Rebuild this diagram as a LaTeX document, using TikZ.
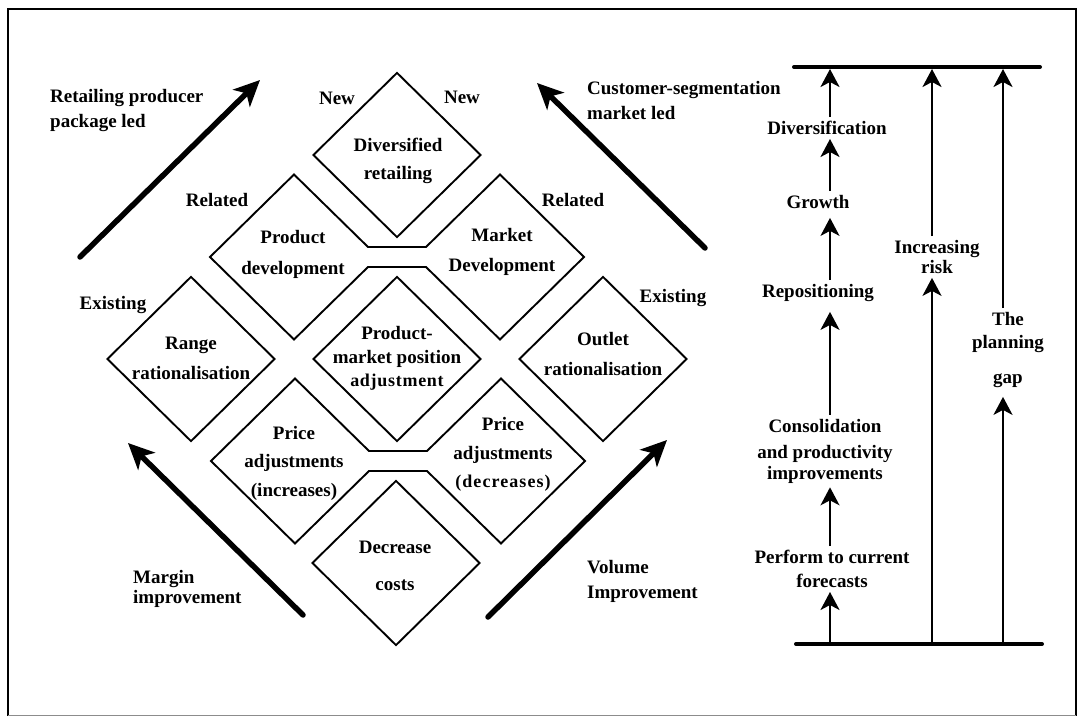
\documentclass[tikz,border=0pt]{standalone}
\usepackage{fontspec}
\setmainfont{Liberation Serif}
\usetikzlibrary{arrows.meta,shapes.geometric}
\newcommand\spacedtext[2]{{\fontsize{18}{24}\selectfont\addfontfeature{LetterSpace=#1}#2}}

\begin{document}
\begin{tikzpicture}[x=1pt,y=-1pt,
  txt/.style={font=\fontsize{19}{25}\selectfont\bfseries, align=center, inner sep=1pt},
  ltxt/.style={txt, align=left, anchor=west},
  rtxt/.style={txt, inner sep=4pt},
  dia/.style={diamond, draw, line width=1.9pt, minimum width=168pt, minimum height=165pt, inner sep=0pt},
  outline/.style={draw, line width=1.9pt, line join=miter},
  bigarrow/.style={line width=5.5pt, line cap=round, -{Stealth[length=26pt,width=24pt,inset=7pt]}},
  uparrow/.style={line width=2.3pt, -{Stealth[length=18pt,width=19pt,inset=5pt]}},
  bar/.style={line width=4pt, line cap=round},
]
\useasboundingbox (0,0) rectangle (1082,717);

% frame
\draw[line width=2.2pt] (8,716) -- (8,9) -- (1076,9) -- (1076,716);
\draw[line width=0.6pt, black!45] (8,715.5) -- (1076,715.5);

% single diamonds
\node[dia] (div) at (397,155) {};
\node[dia] (rr)  at (191,359) {};
\node[dia] (pm)  at (397,359) {};
\node[dia] (orr) at (603,359) {};
\node[dia] (dc)  at (396,563) {};

% joined diamonds: product / market development
\draw[outline, shift={(294,257)}]
  (-84,0) -- (0,-82.5) -- (74,-10) -- (132,-10) -- (206,-82.5) -- (290,0)
  -- (206,82.5) -- (132,10) -- (74,10) -- (0,82.5) -- cycle;
% joined diamonds: price adjustments
\draw[outline, shift={(295,461)}]
  (-84,0) -- (0,-82.5) -- (74,-10) -- (132,-10) -- (206,-82.5) -- (290,0)
  -- (206,82.5) -- (132,10) -- (74,10) -- (0,82.5) -- cycle;

% texts inside the shapes
\node[txt] (tdiv) at (398,161) {Diversified\\[3pt]retailing};
\node[txt] (tpd)  at (293,254) {Product\\[6pt]development};
\node[txt] (tmd)  at (502,252) {Market\\[5pt]Development};
\node[txt] (trr)  at (191,358) {Range\\[5pt]rationalisation};
\node[txt] (tpm)  at (397,358) {Product-\\[-1pt]market position\\[-2pt]\spacedtext{4}{adjustment}};
\node[txt] (tor)  at (603,354) {Outlet\\[5pt]rationalisation};
\node[txt] (tpi)  at (294,463) {Price\\[3pt]adjustments\\[4pt](increases)};
\node[txt] (tpdd) at (503,454) {Price\\[4pt]adjustments\\[3pt]\spacedtext{6}{(decreases)}};
\node[txt] (tdc)  at (395,566) {Decrease\\[12pt]costs};

% side labels
\node[txt] (new1) at (337,98) {New};
\node[txt] (new2) at (462,97) {New};
\node[txt] (rel1) at (217,200) {Related};
\node[txt] (rel2) at (573,200) {Related};
\node[txt] (ex1)  at (113,305) {Existing};
\node[txt] (ex2)  at (673,298) {Existing};

\node[ltxt] (lret)  at (49,111)  {Retailing producer\\package led};
\node[ltxt] (lcust) at (586,101) {Customer-segmentation\\market led};
\node[ltxt] (lmarg) at (132,589) {Margin\\[-5pt]improvement};
\node[ltxt] (lvol)  at (586,581) {Volume\\Improvement};

% direction arrows
\coordinate (tl0) at (80,257);  \coordinate (tl1) at (260,80);
\coordinate (tr0) at (705,248); \coordinate (tr1) at (537,83);
\coordinate (bl0) at (303,615); \coordinate (bl1) at (128,443);
\coordinate (br0) at (488,617); \coordinate (br1) at (667,440);
\draw[bigarrow] (tl0) -- (tl1);
\draw[bigarrow] (tr0) -- (tr1);
\draw[bigarrow] (bl0) -- (bl1);
\draw[bigarrow] (br0) -- (br1);

% right panel: limits
\coordinate (topL) at (794,67);  \coordinate (topR) at (1040,67);
\coordinate (botL) at (796,644); \coordinate (botR) at (1042,644);
\draw[bar] (topL) -- (topR);
\draw[bar] (botL) -- (botR);

\coordinate (colB) at (830,644); \coordinate (colT) at (830,69);
\coordinate (riskB) at (932,644); \coordinate (riskT) at (932,69);
\coordinate (gapB) at (1003,644); \coordinate (gapT) at (1003,69);

\node[rtxt] (sdiv)  at (827,128) {Diversification};
\node[rtxt] (sgro)  at (818,202) {Growth};
\node[rtxt] (srep)  at (818,293) {Repositioning};
\node[rtxt] (scon)  at (825,451) {Consolidation\\[1pt]and productivity\\[-4pt]improvements};
\node[rtxt] (sperf) at (832,569) {Perform to current\\[-1pt]forecasts};
\node[rtxt] (srisk) at (937,257) {Increasing\\[-5pt]risk};
\node[rtxt] (sgap)  at (1008,350) {The\\[-2pt]planning\\[10pt]gap};

% right panel: stages
\draw[uparrow] (colB) -- (sperf.south -| colB);
\draw[uparrow] (sperf.north -| colB) -- (scon.south -| colB);
\draw[uparrow] (scon.north -| colB) -- ([yshift=-6pt]srep.south -| colB);
\draw[uparrow] (srep.north -| colB) -- ([yshift=-5pt]sgro.south -| colB);
\draw[uparrow] (sgro.north -| colB) -- (sdiv.south -| colB);
\draw[uparrow] (sdiv.north -| colB) -- (colT);

% right panel: risk and planning gap
\draw[uparrow] (riskB) -- (srisk.south -| riskB);
\draw[uparrow] (srisk.north -| riskB) -- (riskT);
\draw[uparrow] (gapB) -- ([yshift=-5pt]sgap.south -| gapB);
\draw[uparrow] (sgap.north -| gapB) -- (gapT);

\end{tikzpicture}
\end{document}
